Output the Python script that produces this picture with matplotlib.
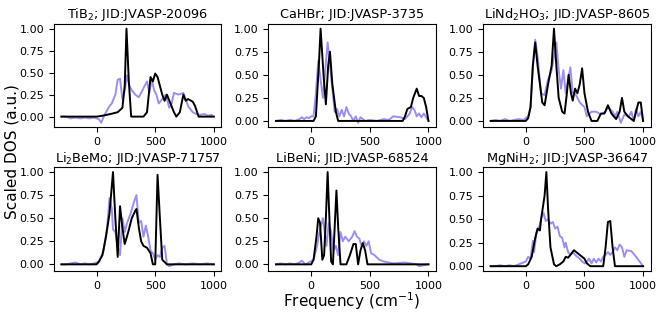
import matplotlib
matplotlib.use("Agg")
import matplotlib.pyplot as plt

# panel titles
titles = [
    "TiB$_2$; JID:JVASP-20096",
    "CaHBr; JID:JVASP-3735",
    "LiNd$_2$HO$_3$; JID:JVASP-8605",
    "Li$_2$BeMo; JID:JVASP-71757",
    "LiBeNi; JID:JVASP-68524",
    "MgNiH$_2$; JID:JVASP-36647",
]

# --- TiB2 ---
tib2_x_dft = [-300, 0, 50, 120, 180, 220, 240, 255, 275, 295, 400, 430, 460, 480, 500, 520, 560, 580, 600, 630, 660, 680, 710, 740, 760, 780, 820, 840, 870, 1000]
tib2_y_dft = [0, 0, 0.01, 0.03, 0.05, 0.1, 0.35, 1.0, 0.4, 0, 0, 0.05, 0.45, 0.4, 0.49, 0.45, 0.25, 0.18, 0.25, 0.15, 0.05, 0.0, 0.05, 0.25, 0.18, 0.2, 0.17, 0.12, 0.0, 0.0]
tib2_x_ml = [-300, -260, -220, -180, -140, -100, -60, -20, 20, 40, 60, 80, 110, 130, 160, 180, 200, 220, 240, 260, 280, 300, 330, 360, 380, 410, 430, 450, 470, 490, 510, 530, 560, 590, 620, 640, 660, 700, 740, 760, 780, 820, 850, 880, 920, 950, 980, 1000]
tib2_y_ml = [0, 0.0, -0.02, -0.01, -0.02, -0.01, -0.02, -0.01, -0.03, -0.07, 0.0, 0.05, 0.12, 0.15, 0.25, 0.42, 0.43, 0.2, 0.3, 0.47, 0.35, 0.3, 0.25, 0.22, 0.27, 0.35, 0.4, 0.27, 0.43, 0.3, 0.25, 0.15, 0.2, 0.25, 0.1, 0.15, 0.27, 0.25, 0.27, 0.2, 0.12, 0.05, 0.03, 0.02, 0.03, 0.01, 0.02, 0.0]

# --- CaHBr ---
cahbr_x_dft = [-300, 20, 40, 65, 80, 105, 125, 145, 160, 180, 210, 230, 780, 800, 820, 850, 870, 900, 920, 940, 960, 980, 1000]
cahbr_y_dft = [0, 0, 0.05, 0.6, 1.0, 0.5, 0.18, 0.6, 0.75, 0.4, 0.1, 0, 0, 0.05, 0.13, 0.15, 0.25, 0.35, 0.27, 0.27, 0.25, 0.15, 0.0]
cahbr_x_ml = [-300, -260, -220, -180, -140, -100, -80, -60, -40, -20, 0, 20, 40, 60, 80, 100, 120, 140, 160, 180, 200, 220, 240, 260, 280, 300, 320, 340, 360, 380, 400, 420, 460, 500, 560, 620, 660, 700, 760, 800, 840, 860, 880, 900, 920, 940, 960, 980, 1000]
cahbr_y_ml = [0, 0.01, 0.0, 0.01, 0.0, 0.02, 0.04, 0.02, 0.04, 0.03, 0.05, 0.05, 0.3, 0.65, 0.45, 0.25, 0.55, 0.85, 0.6, 0.35, 0.1, 0.13, 0.05, 0.12, 0.05, 0.15, 0.08, 0.05, 0.0, 0.05, -0.02, 0.04, 0.0, 0.01, 0.0, 0.02, 0.01, 0.05, 0.04, 0.02, 0.08, 0.15, 0.12, 0.05, 0.08, 0.04, 0.08, 0.04, 0.0]

# --- LiNd2HO3 ---
lnho_x_dft = [-300, 0, 20, 40, 60, 80, 100, 140, 160, 190, 220, 240, 260, 280, 310, 330, 350, 365, 385, 400, 420, 440, 460, 480, 500, 530, 560, 610, 640, 670, 700, 730, 770, 800, 820, 840, 870, 900, 920, 940, 960, 980, 1000]
lnho_y_dft = [0, 0, 0.03, 0.15, 0.6, 0.85, 0.6, 0.2, 0.17, 0.4, 0.6, 1.0, 0.6, 0.25, 0.1, 0.08, 0.3, 0.5, 0.3, 0.22, 0.35, 0.3, 0.4, 0.57, 0.3, 0.1, 0.0, 0.0, 0.08, 0.08, 0.17, 0.08, 0.02, 0.1, 0.25, 0.1, 0.05, 0.02, 0.0, 0.1, 0.2, 0.2, 0.0]
lnho_x_ml = [-300, -260, -220, -180, -140, -100, -60, -20, 0, 20, 40, 60, 80, 100, 130, 160, 190, 220, 240, 260, 280, 300, 320, 340, 360, 380, 400, 420, 460, 500, 520, 560, 600, 640, 680, 700, 740, 760, 780, 810, 840, 880, 900, 920, 940, 960, 980, 1000]
lnho_y_ml = [0, 0.01, 0.0, 0.02, 0.0, 0.01, 0.02, 0.01, 0.03, 0.05, 0.15, 0.6, 0.88, 0.7, 0.3, 0.28, 0.45, 0.55, 0.7, 0.85, 0.55, 0.35, 0.55, 0.3, 0.45, 0.58, 0.3, 0.3, 0.2, 0.15, 0.05, 0.1, 0.1, 0.07, 0.1, 0.15, 0.1, 0.05, 0.1, -0.02, 0.07, 0.05, 0.1, 0.0, 0.13, 0.05, 0.1, 0.0]

# --- Li2BeMo ---
lbm_x_dft = [-300, 0, 20, 50, 80, 110, 140, 160, 180, 200, 220, 240, 270, 300, 330, 340, 360, 380, 400, 430, 460, 480, 500, 520, 540, 560, 600, 1000]
lbm_y_dft = [0, 0, 0.03, 0.1, 0.3, 0.55, 1.0, 0.5, 0.08, 0.63, 0.4, 0.22, 0.35, 0.5, 0.58, 0.6, 0.4, 0.25, 0.2, 0.18, 0.12, 0.0, 0.0, 0.97, 0.5, 0.05, 0.0, 0.0]
lbm_x_ml = [-300, -260, -220, -180, -140, -100, -60, -20, 20, 60, 90, 110, 130, 140, 160, 180, 200, 220, 240, 260, 290, 320, 340, 360, 380, 400, 420, 440, 460, 480, 500, 520, 540, 560, 580, 600, 620, 660, 700, 760, 820, 880, 940, 1000]
lbm_y_ml = [0, 0.0, 0.01, 0.02, 0.0, 0.01, 0.0, 0.01, 0.03, 0.15, 0.4, 0.72, 0.6, 0.38, 0.35, 0.2, 0.1, 0.5, 0.35, 0.45, 0.55, 0.68, 0.75, 0.45, 0.47, 0.3, 0.42, 0.3, 0.15, 0.12, 0.05, 0.1, 0.08, 0.18, 0.2, 0.0, -0.02, 0.0, 0.01, 0.0, 0.01, 0.0, 0.01, 0.0]

# --- LiBeNi ---
lbn_x_dft = [-300, 0, 20, 45, 60, 75, 95, 110, 125, 140, 155, 170, 185, 200, 215, 230, 250, 300, 330, 360, 380, 400, 420, 440, 460, 480, 1000]
lbn_y_dft = [0, 0, 0.05, 0.3, 0.5, 0.45, 0.05, 0.1, 0.5, 1.0, 0.5, 0.03, 0.0, 0.4, 0.8, 0.4, 0.0, 0.0, 0.1, 0.22, 0.22, 0.0, 0.15, 0.23, 0.15, 0.0, 0.0]
lbn_x_ml = [-300, -260, -220, -180, -140, -100, -80, -50, -20, 20, 50, 70, 90, 100, 120, 130, 150, 170, 190, 210, 230, 250, 270, 290, 320, 350, 370, 390, 410, 430, 450, 470, 490, 510, 540, 580, 620, 700, 800, 900, 920, 1000]
lbn_y_ml = [0, 0.01, 0.0, 0.01, 0.0, 0.02, 0.04, 0.0, 0.02, 0.05, 0.2, 0.35, 0.45, 0.5, 0.3, 0.2, 0.45, 0.35, 0.15, 0.2, 0.1, 0.35, 0.25, 0.3, 0.25, 0.3, 0.36, 0.3, 0.28, 0.2, 0.25, 0.2, 0.25, 0.12, 0.1, 0.05, 0.03, 0.01, 0.02, 0.0, -0.02, 0.0]

# --- MgNiH2 ---
mnh_x_dft = [-300, 0, 20, 50, 80, 100, 120, 130, 160, 175, 190, 210, 240, 260, 290, 320, 340, 360, 380, 410, 430, 460, 480, 500, 520, 550, 660, 680, 700, 720, 740, 760, 1000]
mnh_y_dft = [0, 0, 0.02, 0.1, 0.3, 0.4, 0.38, 0.5, 0.75, 1.0, 0.6, 0.2, 0.02, 0.0, 0.02, 0.05, 0.1, 0.09, 0.12, 0.17, 0.15, 0.12, 0.1, 0.08, 0.03, 0.0, 0.0, 0.2, 0.47, 0.48, 0.2, 0.0, 0.0]
mnh_x_ml = [-300, -260, -220, -180, -140, -100, -80, -40, 0, 20, 40, 60, 70, 90, 110, 130, 150, 170, 190, 210, 230, 250, 270, 290, 310, 330, 340, 360, 380, 400, 420, 440, 460, 480, 500, 520, 540, 560, 580, 600, 620, 640, 660, 680, 700, 720, 740, 760, 780, 800, 820, 840, 860, 900, 940, 970, 1000]
mnh_y_ml = [0, 0.0, 0.01, 0.0, 0.01, 0.0, 0.01, 0.03, 0.05, 0.1, 0.08, 0.27, 0.15, 0.35, 0.4, 0.5, 0.57, 0.48, 0.5, 0.45, 0.47, 0.4, 0.42, 0.32, 0.3, 0.2, 0.25, 0.15, 0.12, 0.15, 0.12, 0.1, 0.08, 0.05, 0.03, 0.05, 0.08, 0.03, 0.08, 0.04, 0.08, 0.05, 0.1, 0.12, 0.15, 0.12, 0.15, 0.2, 0.17, 0.23, 0.2, 0.1, 0.17, 0.16, 0.1, 0.05, 0.0]

panels = [
    (tib2_x_dft, tib2_y_dft, tib2_x_ml, tib2_y_ml),
    (cahbr_x_dft, cahbr_y_dft, cahbr_x_ml, cahbr_y_ml),
    (lnho_x_dft, lnho_y_dft, lnho_x_ml, lnho_y_ml),
    (lbm_x_dft, lbm_y_dft, lbm_x_ml, lbm_y_ml),
    (lbn_x_dft, lbn_y_dft, lbn_x_ml, lbn_y_ml),
    (mnh_x_dft, mnh_y_dft, mnh_x_ml, mnh_y_ml),
]

fig, axes = plt.subplots(2, 3, figsize=(6.64, 3.15), dpi=100)
fig.subplots_adjust(left=0.081, right=0.980, top=0.924, bottom=0.140,
                    wspace=0.28, hspace=0.385)

for ax, title, (xd, yd, xm, ym) in zip(axes.flat, titles, panels):
    ax.plot(xm, ym, color='mediumslateblue', alpha=0.75, lw=1.4)
    ax.plot(xd, yd, color='black', lw=1.4)
    ax.set_title(title, fontsize=9.3, pad=4)
    ax.set_xticks([0, 500, 1000])
    ax.set_yticks([0, 0.25, 0.5, 0.75, 1.0])
    ax.set_yticklabels(['0.00', '0.25', '0.50', '0.75', '1.00'])
    ax.tick_params(labelsize=8)

fig.text(0.018, 0.52, 'Scaled DOS (a.u.)', rotation=90, va='center', ha='center', fontsize=11)
fig.text(0.53, 0.045, 'Frequency (cm$^{-1}$)', va='center', ha='center', fontsize=11)

fig.savefig('out.png', dpi=100)
